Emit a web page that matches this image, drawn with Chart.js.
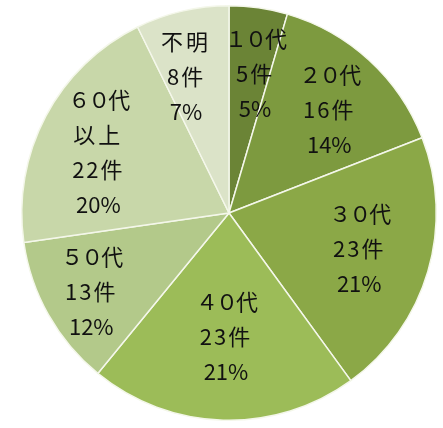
<!DOCTYPE html>
<html>
<head>
<meta charset="utf-8">
<script src="https://cdn.jsdelivr.net/npm/chart.js@4"></script>
<style>
  html, body { margin: 0; padding: 0; background: #ffffff; }
  #wrap { width: 443px; height: 428px; position: relative; }
</style>
</head>
<body>
<div id="wrap"><canvas id="chartAge"></canvas></div>
<script>
const AGE_LABELS = [["１０代"], ["２０代"], ["３０代"], ["４０代"], ["５０代"], ["６０代", "以上"], ["不明"]];
const AGE_COUNTS = [5, 16, 23, 23, 13, 22, 8];
const AGE_PERCENTS = [5, 14, 21, 21, 12, 20, 7];
const AGE_COLORS = ["#6b8436", "#7d9a3f", "#8ba847", "#9cbc58", "#b3c98a", "#c8d7a9", "#dbe3c8"];

// small hand nudges so the labels sit where the original put them
const LABEL_NUDGE = [[6, 0], [5, 0], [-5, -4], [1, -17], [-15, 9], [-6, 5], [-11, 1]];

function spacingFor(text) {
    if (/[０-９]/.test(text)) return '-2px';
    if (text.endsWith('件')) return '2px';
    if (text.endsWith('%')) return '0px';
    return '3px';
}

// draws the three/four line labels inside each slice
const sliceLabels = {
    id: 'sliceLabels',
    afterDatasetsDraw(chart) {
        const ctx = chart.ctx;
        const arcs = chart.getDatasetMeta(0).data;
        ctx.save();
        ctx.fillStyle = '#111111';
        ctx.font = '22px "Noto Sans CJK JP", sans-serif';
        ctx.textAlign = 'center';
        ctx.textBaseline = 'middle';
        arcs.forEach((arc, i) => {
            const mid = (arc.startAngle + arc.endAngle) / 2;
            const r = arc.outerRadius * 0.68;
            const x = arc.x + Math.cos(mid) * r + LABEL_NUDGE[i][0];
            const y = arc.y + Math.sin(mid) * r + LABEL_NUDGE[i][1];
            const lines = AGE_LABELS[i].concat([AGE_COUNTS[i] + '件', AGE_PERCENTS[i] + '%']);
            const step = 35;
            const top = y - (lines.length - 1) * step / 2;
            lines.forEach((t, j) => {
                ctx.letterSpacing = spacingFor(t);
                ctx.fillText(t, x, top + j * step);
            });
        });
        ctx.restore();
    }
};

const chartAge = new Chart(document.getElementById('chartAge'), {
    type: 'pie',
    data: {
        labels: AGE_LABELS.map(l => l.join('')),
        datasets: [{
            data: AGE_COUNTS,
            backgroundColor: AGE_COLORS,
            borderColor: '#f4f7ea',
            borderWidth: 1.5,
        }]
    },
    options: {
        responsive: true,
        maintainAspectRatio: false,
        animation: false,
        layout: { padding: { left: 21, right: 6, top: 5, bottom: 7 } },
        plugins: {
            legend: { display: false },
            tooltip: { enabled: false },
        }
    },
    plugins: [sliceLabels]
});
</script>
</body>
</html>
